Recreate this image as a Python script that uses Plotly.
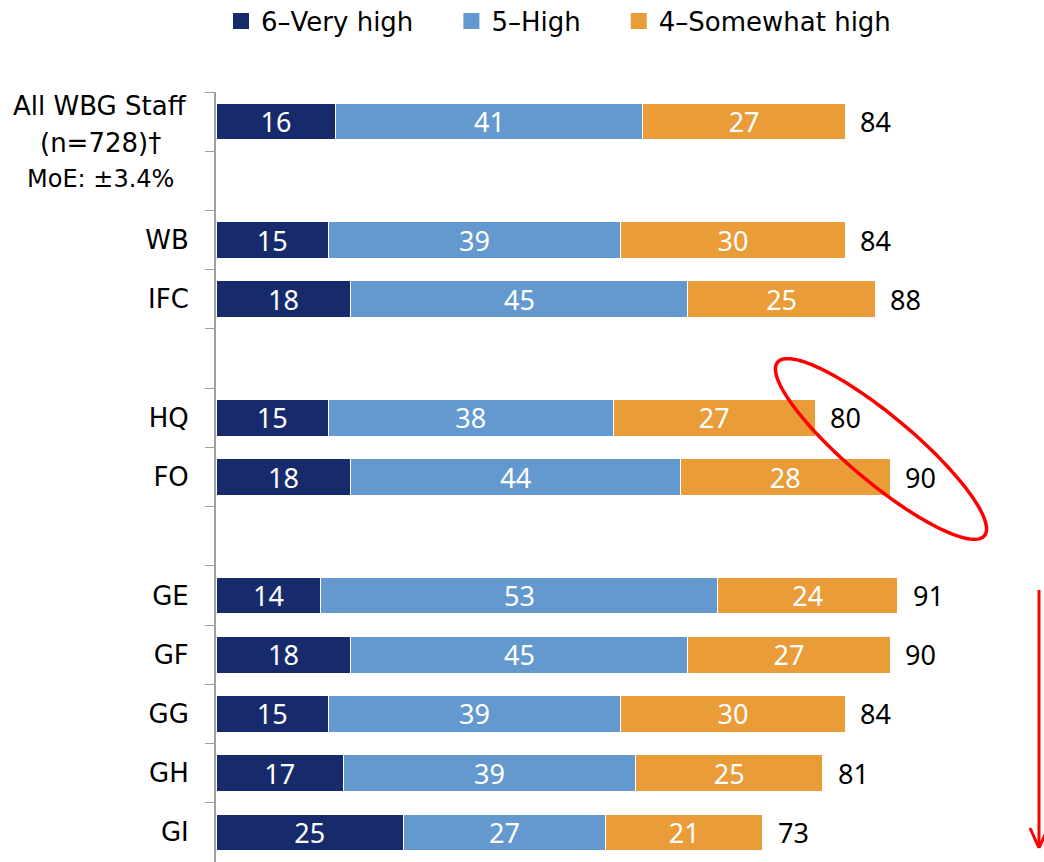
import numpy as np
import plotly.graph_objects as go

# rows top to bottom; blank names are spacer rows
categories = ["All", " ", "WB", "IFC", "  ", "HQ", "FO", "   ", "GE", "GF", "GG", "GH", "GI"]
tick_labels = ["", "", "WB", "IFC", "", "HQ", "FO", "", "GE", "GF", "GG", "GH", "GI"]
very_high = [16, None, 15, 18, None, 15, 18, None, 14, 18, 15, 17, 25]
high = [41, None, 39, 45, None, 38, 44, None, 53, 45, 39, 39, 27]
somewhat_high = [27, None, 30, 25, None, 27, 28, None, 24, 27, 30, 25, 21]
totals = [84, None, 84, 88, None, 80, 90, None, 91, 90, 84, 81, 73]

series_names = ["6\u2013Very high", "5\u2013High", "4\u2013Somewhat high"]
colors = ["#172a6b", "#6399cf", "#e99c37"]

FONT = "DejaVu Sans"
NUMFONT = "Noto Sans"
W, H = 1044, 862
L, R, T, B = 216, 4, 92, 0
PW, PH = W - L - R, H - T - B
ROW = 770 / 13  # row pitch in px in the reference


def px2paper(px, py):
    # reference screenshot pixels -> paper coords
    return (px - L) / PW, (H - B - py) / PH


fig = go.Figure()
for name, vals, col in zip(series_names, [very_high, high, somewhat_high], colors):
    fig.add_trace(go.Bar(
        x=vals, y=categories, orientation="h", name=name, showlegend=False,
        marker=dict(color=col, line=dict(color="white", width=1)),
        text=[("" if v is None else str(v)) for v in vals],
        textposition="inside", insidetextanchor="middle", textangle=0,
        textfont=dict(family=NUMFONT, size=27, color="white"),
        constraintext="none",
    ))
    # legend-only entry with a bigger square swatch
    fig.add_trace(go.Scatter(
        x=[None], y=[None], mode="markers", name=name + "\u00a0" * 4,
        marker=dict(symbol="square", size=16, color=col),
    ))

# totals to the right of each bar
for cat, tot in zip(categories, totals):
    if tot is None:
        continue
    fig.add_annotation(x=tot, y=cat, xref="x", yref="y", text=str(tot),
                       showarrow=False, xanchor="left", xshift=13,
                       font=dict(family=NUMFONT, size=27, color="black"))

# first row label written by hand (multi-line, centred)
lx, _ = px2paper(100, 0)
for txt, py, sz in [("All WBG Staff", 106, 26), ("(n=728)\u2020", 143, 26), ("MoE: \u00b13.4%", 179, 24)]:
    fig.add_annotation(x=lx, y=px2paper(0, py)[1], xref="paper", yref="paper",
                       text=txt, showarrow=False, xanchor="center", yanchor="middle",
                       font=dict(family=FONT, size=sz, color="black"))

# red ellipse around HQ / FO totals
cx, cy, a, b, ang = 881, 449, 135, 33, np.deg2rad(40)
t = np.linspace(0, 2 * np.pi, 120)
ex = cx + a * np.cos(t) * np.cos(ang) - b * np.sin(t) * np.sin(ang)
ey = cy + a * np.cos(t) * np.sin(ang) + b * np.sin(t) * np.cos(ang)
pts = [px2paper(x, y) for x, y in zip(ex, ey)]
path = "M" + " L".join(f"{x:.4f},{y:.4f}" for x, y in pts) + " Z"
fig.add_shape(type="path", path=path, xref="paper", yref="paper",
              line=dict(color="#ff0000", width=3.5))

# red downward arrow (shaft + open head)
red = dict(color="#ff0000", width=3)
for (x0, y0), (x1, y1) in [((1039, 590), (1039, 847)),
                           ((1030, 828), (1039, 848)),
                           ((1048, 828), (1039, 848))]:
    p0, p1 = px2paper(x0, y0), px2paper(x1, y1)
    fig.add_shape(type="line", x0=p0[0], y0=p0[1], x1=p1[0], y1=p1[1],
                  xref="paper", yref="paper", line=red)

lgx, lgy = px2paper(221, 21)
fig.update_layout(
    width=W, height=H,
    margin=dict(l=L, r=R, t=T, b=B, autoexpand=False),
    barmode="stack", bargap=0.38,
    plot_bgcolor="white", paper_bgcolor="white",
    font=dict(family=FONT, size=26, color="black"),
    showlegend=True,
    legend=dict(orientation="h", x=lgx, y=lgy, xanchor="left", yanchor="middle",
                font=dict(family=FONT, size=26, color="black"),
                itemwidth=30, traceorder="normal"),
    xaxis=dict(range=[0, 110], visible=False),
    yaxis=dict(
        categoryorder="array", categoryarray=categories,
        range=[-0.5 + PH / ROW, -0.5],
        tickmode="array", tickvals=categories, ticktext=tick_labels,
        tickson="boundaries", ticks="outside", ticklen=9, tickcolor="#a0a0a0",
        showline=True, linecolor="#a0a0a0", linewidth=2, showgrid=False,
        ticklabelstandoff=20, tickfont=dict(family=FONT, size=26, color="black"),
    ),
)

# page without body margin / scrollbars so the figure fills the window
fig.write_html("out.html", config={"displayModeBar": False},
               post_script="document.body.style.margin='0';"
                           "document.documentElement.style.overflow='hidden';")
